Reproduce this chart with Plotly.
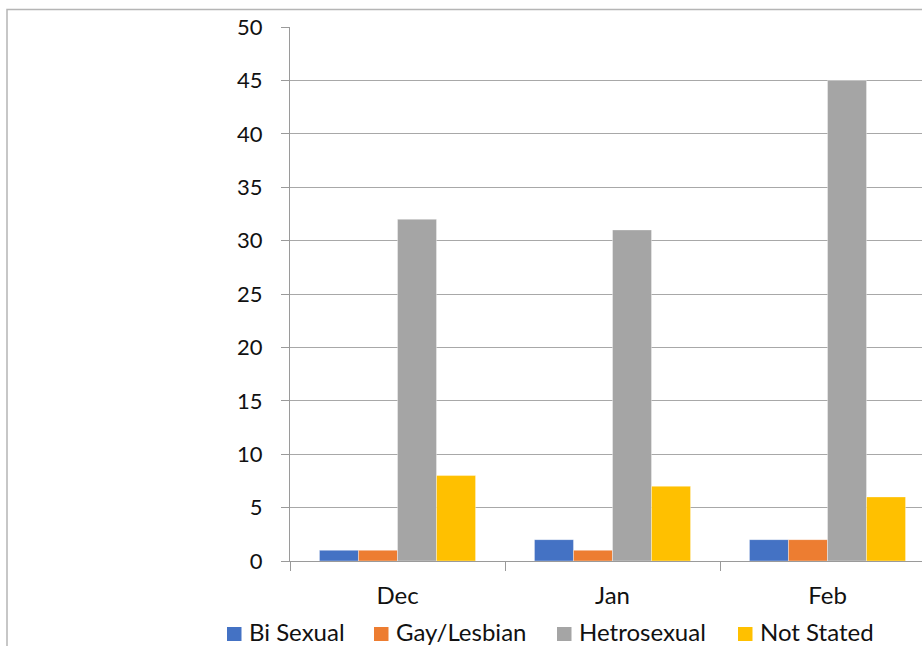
import plotly.graph_objects as go

months = ["Dec", "Jan", "Feb"]
bi_sexual = [1, 2, 2]
gay_lesbian = [1, 1, 2]
hetrosexual = [32, 31, 45]
not_stated = [8, 7, 6]

series = [
    ("Bi Sexual", bi_sexual, "#4472C4"),
    ("Gay/Lesbian", gay_lesbian, "#ED7D31"),
    ("Hetrosexual", hetrosexual, "#A5A5A5"),
    ("Not Stated", not_stated, "#FFC000"),
]

W, H = 922, 646
L, R, T, B = 290, 0, 27, 85

fig = go.Figure()
for name, vals, col in series:
    fig.add_trace(go.Bar(
        x=months, y=vals, name=name, showlegend=False,
        marker=dict(color=col, line=dict(color="rgba(255,255,255,0.6)", width=0.6)),
    ))

plot_w = W - L - R
plot_h = H - T - B
cat_px = 215.0
x_hi = -0.5 + plot_w / cat_px

font_family = "Lato, 'Open Sans', sans-serif"
text_col = "#111111"


def px_x(px):
    return (px - L) / plot_w


def px_y(py):
    return (H - B - py) / plot_h


fig.update_layout(
    width=W, height=H,
    margin=dict(l=L, r=R, t=T, b=B, pad=0, autoexpand=False),
    paper_bgcolor="white", plot_bgcolor="white",
    barmode="group", bargap=0.274, bargroupgap=0,
    font=dict(family=font_family, size=24, color=text_col),
    showlegend=False,
    xaxis=dict(
        range=[-0.5, x_hi], showgrid=False, zeroline=False,
        showline=True, linecolor="#9a9a9a", linewidth=1,
        ticks="outside", tickson="boundaries", ticklen=9,
        tickcolor="#9a9a9a", tickwidth=1,
        tickfont=dict(size=24),
        ticklabelstandoff=13,
    ),
    yaxis=dict(
        range=[0, 50], dtick=5, tick0=0,
        showgrid=True, gridcolor="#a8a8a8", gridwidth=1,
        zeroline=False, showline=True, linecolor="#9a9a9a", linewidth=1,
        ticks="outside", ticklen=8, tickcolor="#9a9a9a", tickwidth=1,
        tickfont=dict(size=22),
        ticklabelstandoff=14,
    ),
)

# chart frame
fig.add_shape(
    type="rect", xref="paper", yref="paper",
    x0=px_x(7), x1=1.5,
    y0=-1.0, y1=px_y(9.5),
    line=dict(color="#b5b5b5", width=1.5), layer="below",
)

# legend row along the bottom
legend_swatch_x = [227, 374, 557, 738]
for (name, _vals, col), sx in zip(series, legend_swatch_x):
    fig.add_shape(
        type="rect", xref="paper", yref="paper",
        x0=px_x(sx), x1=px_x(sx + 14.5),
        y0=px_y(641), y1=px_y(627),
        fillcolor=col, line=dict(width=0),
    )
    fig.add_annotation(
        xref="paper", yref="paper",
        x=px_x(sx + 21), y=px_y(631),
        xanchor="left", yanchor="middle", height=30, borderpad=0,
        text=name, showarrow=False,
        font=dict(size=24, color=text_col, family=font_family),
    )

fig.write_html("out.html")
